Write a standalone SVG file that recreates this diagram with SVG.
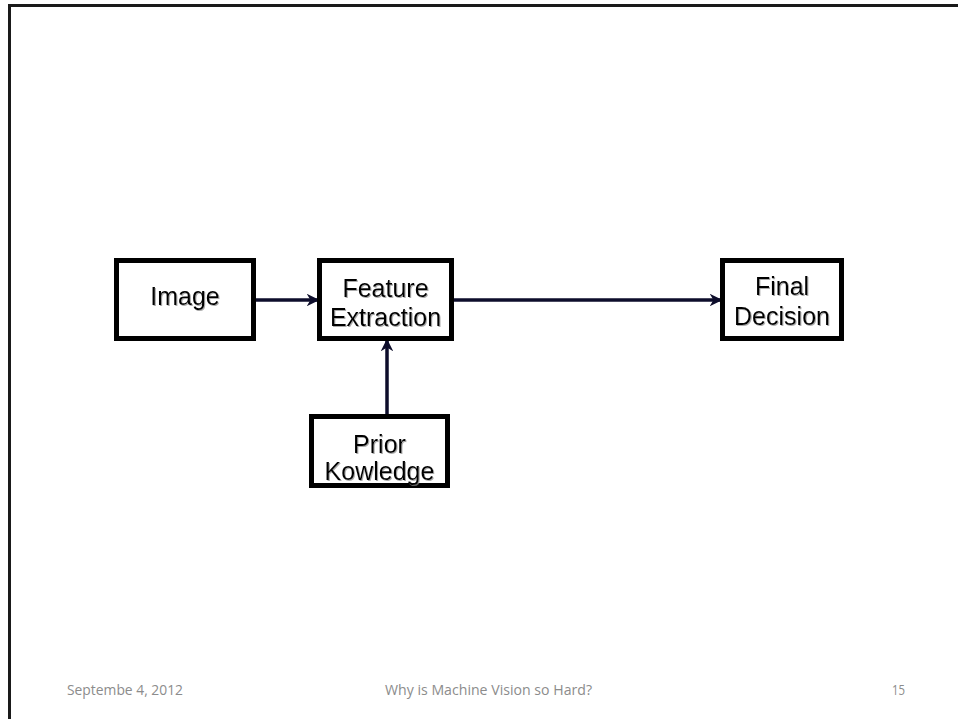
<svg xmlns="http://www.w3.org/2000/svg" width="958" height="719" viewBox="0 0 958 719">
<style>
.box{fill:#fff;stroke:#000;stroke-width:5}
.lbl{font-family:"Liberation Sans",Arial,sans-serif;font-size:25px;fill:#000;text-anchor:middle}
.con{stroke:#0d0d2b;stroke-width:3.5;fill:none;marker-end:url(#ah)}
.ft{font-family:"Open Sans","Liberation Sans",sans-serif;font-size:15px;fill:#8c8c8c}
</style>
<defs>
<marker id="ah" viewBox="0 0 10 10" refX="9" refY="5" markerWidth="3.6" markerHeight="3.6" orient="auto" markerUnits="strokeWidth">
<path d="M0,0 L10,5 L0,10 L3,5 z" fill="#0d0d2b"/>
</marker>
<filter id="sh" x="-10%" y="-10%" width="120%" height="130%">
<feDropShadow dx="1" dy="1" stdDeviation="0.3" flood-color="#888" flood-opacity="0.7"/>
</filter>
</defs>
<rect x="0" y="0" width="958" height="719" fill="#fff"/>
<path d="M9.5,719 V5.5 H958" fill="none" stroke="#1a1a1a" stroke-width="3"/>
<g id="connectors">
<line class="con" x1="256" y1="300" x2="318" y2="300"/>
<line class="con" x1="454" y1="300" x2="721" y2="300"/>
<line class="con" x1="387" y1="414" x2="387" y2="340"/>
</g>
<g id="image">
<rect class="box" x="116.5" y="260.5" width="137" height="78"/>
<text class="lbl" x="185" y="305" filter="url(#sh)">Image</text>
</g>
<g id="feature">
<rect class="box" x="319.5" y="260.5" width="132" height="78"/>
<text class="lbl" x="385.5" y="297" filter="url(#sh)">Feature</text>
<text class="lbl" x="385.5" y="326" filter="url(#sh)">Extraction</text>
</g>
<g id="final">
<rect class="box" x="722.5" y="260.5" width="119" height="78"/>
<text class="lbl" x="782" y="295" filter="url(#sh)">Final</text>
<text class="lbl" x="782" y="325" filter="url(#sh)">Decision</text>
</g>
<g id="prior">
<rect class="box" x="311.5" y="416.5" width="136" height="69"/>
<text class="lbl" x="379.5" y="453" filter="url(#sh)">Prior</text>
<text class="lbl" x="379.5" y="480" filter="url(#sh)">Kowledge</text>
</g>
<g id="footer">
<text class="ft" x="67" y="695" textLength="116" lengthAdjust="spacingAndGlyphs">Septembe 4, 2012</text>
<text class="ft" x="385" y="695" textLength="207" lengthAdjust="spacingAndGlyphs">Why is Machine Vision so Hard?</text>
<text class="ft" x="892" y="695" textLength="13" lengthAdjust="spacingAndGlyphs">15</text>
</g>
</svg>
